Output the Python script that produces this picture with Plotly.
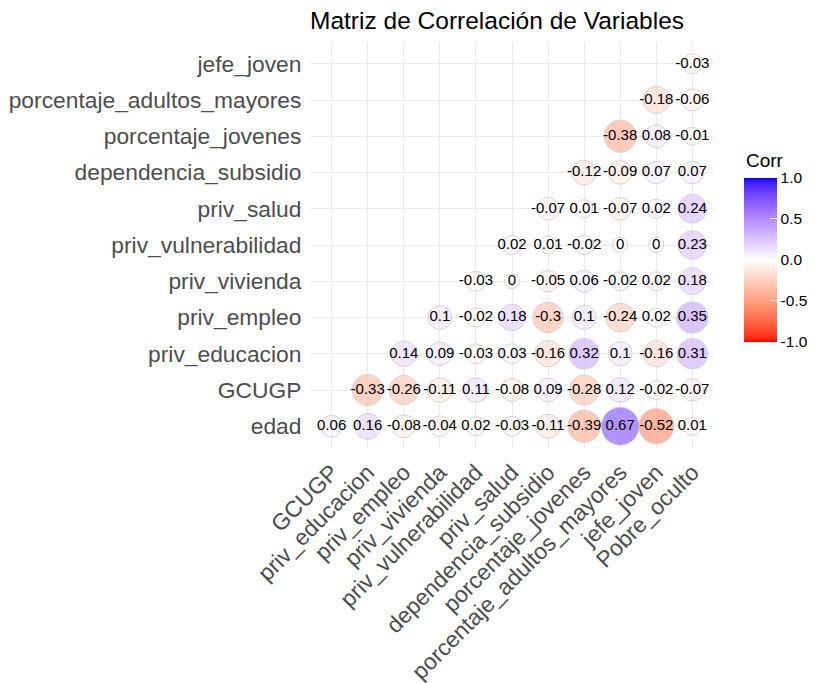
import math
import plotly.graph_objects as go

# ---- data ----
x_vars = ["GCUGP", "priv_educacion", "priv_empleo", "priv_vivienda", "priv_vulnerabilidad",
          "priv_salud", "dependencia_subsidio", "porcentaje_jovenes",
          "porcentaje_adultos_mayores", "jefe_joven", "Pobre_oculto"]
y_vars = ["edad", "GCUGP", "priv_educacion", "priv_empleo", "priv_vivienda",
          "priv_vulnerabilidad", "priv_salud", "dependencia_subsidio",
          "porcentaje_jovenes", "porcentaje_adultos_mayores", "jefe_joven"]

# each row lists the values of its rightmost columns (ending at Pobre_oculto)
r_edad = [0.06, 0.16, -0.08, -0.04, 0.02, -0.03, -0.11, -0.39, 0.67, -0.52, 0.01]
r_GCUGP = [-0.33, -0.26, -0.11, 0.11, -0.08, 0.09, -0.28, 0.12, -0.02, -0.07]
r_priv_educacion = [0.14, 0.09, -0.03, 0.03, -0.16, 0.32, 0.1, -0.16, 0.31]
r_priv_empleo = [0.1, -0.02, 0.18, -0.3, 0.1, -0.24, 0.02, 0.35]
r_priv_vivienda = [-0.03, 0, -0.05, 0.06, -0.02, 0.02, 0.18]
r_priv_vulnerabilidad = [0.02, 0.01, -0.02, 0, 0, 0.23]
r_priv_salud = [-0.07, 0.01, -0.07, 0.02, 0.24]
r_dependencia_subsidio = [-0.12, -0.09, 0.07, 0.07]
r_porcentaje_jovenes = [-0.38, 0.08, -0.01]
r_porcentaje_adultos_mayores = [-0.18, -0.06]
r_jefe_joven = [-0.03]

rows = [r_edad, r_GCUGP, r_priv_educacion, r_priv_empleo, r_priv_vivienda,
        r_priv_vulnerabilidad, r_priv_salud, r_dependencia_subsidio,
        r_porcentaje_jovenes, r_porcentaje_adultos_mayores, r_jefe_joven]

cbar_ticks = [-1.0, -0.5, 0.0, 0.5, 1.0]

# ---- colour mapping (Lab interpolation like ggplot2 gradient2) ----
def _lin(c):
    c = c / 255.0
    return c / 12.92 if c <= 0.04045 else ((c + 0.055) / 1.055) ** 2.4

def _delin(c):
    v = 12.92 * c if c <= 0.0031308 else 1.055 * (c ** (1 / 2.4)) - 0.055
    return max(0, min(255, round(v * 255)))

WN = (0.95047, 1.0, 1.08883)

def rgb2lab(rgb):
    r, g, b = [_lin(v) for v in rgb]
    X = 0.4124564 * r + 0.3575761 * g + 0.1804375 * b
    Y = 0.2126729 * r + 0.7151522 * g + 0.0721750 * b
    Z = 0.0193339 * r + 0.1191920 * g + 0.9503041 * b
    d = 6 / 29
    f = lambda t: t ** (1 / 3) if t > d ** 3 else t / (3 * d * d) + 4 / 29
    fx, fy, fz = f(X / WN[0]), f(Y / WN[1]), f(Z / WN[2])
    return (116 * fy - 16, 500 * (fx - fy), 200 * (fy - fz))

def lab2rgb(lab):
    L, a, b = lab
    fy = (L + 16) / 116
    fx = fy + a / 500
    fz = fy - b / 200
    d = 6 / 29
    finv = lambda t: t ** 3 if t > d else 3 * d * d * (t - 4 / 29)
    X, Y, Z = WN[0] * finv(fx), WN[1] * finv(fy), WN[2] * finv(fz)
    r = 3.2404542 * X - 1.5371385 * Y - 0.4985314 * Z
    g = -0.9692660 * X + 1.8760108 * Y + 0.0415560 * Z
    bb = 0.0556434 * X - 0.2040259 * Y + 1.0572252 * Z
    return tuple(_delin(max(0.0, v)) for v in (r, g, bb))

LOW, MID, HIGH = rgb2lab((255, 0, 0)), rgb2lab((255, 255, 255)), rgb2lab((0, 0, 255))

def corr_color(v):
    v = max(-1, min(1, v))
    if v < 0:
        t = -v
        a, b = MID, LOW
    else:
        t = v
        a, b = MID, HIGH
    lab = tuple(a[i] + (b[i] - a[i]) * t for i in range(3))
    r, g, bb = lab2rgb(lab)
    return f"rgb({r},{g},{bb})"

# ---- build points ----
px, py, pv = [], [], []
for i, row in enumerate(rows):
    start = len(x_vars) - len(row)
    for j, v in enumerate(row):
        px.append(x_vars[start + j])
        py.append(y_vars[i])
        pv.append(v)

maxabs = max(abs(v) for v in pv)
PX_PER_SIZE = 3.79
sizes = [PX_PER_SIZE * (4 + 6 * math.sqrt(abs(v) / maxabs)) for v in pv]
colors = [corr_color(v) for v in pv]
labels = [f"{v:g}" for v in pv]

n = 41
colorscale = [[k / (n - 1), corr_color(-1 + 2 * k / (n - 1))] for k in range(n)]

FONT = "Liberation Sans, Arial"
# page body has an 8px margin: figure drawn from (8, 8)
OFF = 8
W, H = 820 - OFF, 683 - OFF
PL, PR, PT, PB = 310, 714, 41.5, 448.5   # panel edges in window pixels
CB_LEFT = 744

fig = go.Figure()
fig.add_trace(go.Scatter(
    x=px, y=py, mode="markers",
    marker=dict(size=sizes, color=colors, line=dict(color="#C4C4C4", width=1)),
    hoverinfo="skip", showlegend=False))
fig.add_trace(go.Scatter(
    x=px, y=py, mode="text", text=labels, textposition="middle center",
    textfont=dict(family=FONT, size=15, color="black"),
    hoverinfo="skip", showlegend=False))
# colorbar
fig.add_trace(go.Scatter(
    x=[x_vars[0]], y=[y_vars[0]], mode="markers",
    marker=dict(size=0.1, color=[0], cmin=-1, cmax=1, colorscale=colorscale,
                opacity=0, showscale=True,
                colorbar=dict(
                    thickness=33, thicknessmode="pixels",
                    len=164, lenmode="pixels",
                    x=(CB_LEFT - PL) / (PR - PL), xanchor="left",
                    y=(PB - 260) / (PB - PT), yanchor="middle",
                    xpad=0, ypad=0, outlinewidth=0,
                    tickvals=cbar_ticks,
                    ticktext=[f"{t:.1f}" for t in cbar_ticks],
                    ticks="inside", ticklen=7, tickcolor="white", tickwidth=1,
                    tickfont=dict(family=FONT, size=15.5, color="black"))),
    hoverinfo="skip", showlegend=False))

axis_font = dict(family=FONT, size=22.8, color="#4D4D4D")
fig.update_layout(
    width=W, height=H,
    margin=dict(l=PL - OFF, r=W + OFF - PR, t=PT - OFF, b=H + OFF - PB, autoexpand=False),
    paper_bgcolor="white", plot_bgcolor="white",
    title=dict(text="Matriz de Correlación de Variables", x=0, xref="paper",
               y=1 - (20 - OFF) / H, yref="container", yanchor="middle", xanchor="left",
               font=dict(family=FONT, size=24.5, color="black")),
    annotations=[dict(text="Corr", x=(CB_LEFT - PL) / (PR - PL), y=(PB - 160) / (PB - PT),
                      xref="paper", yref="paper", xanchor="left", yanchor="middle",
                      showarrow=False, font=dict(family=FONT, size=19, color="black"))],
    xaxis=dict(type="category", categoryorder="array", categoryarray=x_vars,
               range=[-0.6, len(x_vars) - 0.4], tickangle=-45, tickfont=axis_font,
               showgrid=True, gridcolor="#EBEBEB", gridwidth=1.1, zeroline=False,
               showline=False, ticks="outside", ticklen=1, tickcolor="rgba(0,0,0,0)",
               fixedrange=True),
    yaxis=dict(type="category", categoryorder="array", categoryarray=y_vars,
               range=[-0.6, len(y_vars) - 0.4], tickfont=axis_font,
               showgrid=True, gridcolor="#EBEBEB", gridwidth=1.1, zeroline=False,
               showline=False, ticks="outside", ticklen=3, tickcolor="rgba(0,0,0,0)",
               fixedrange=True),
)

fig.write_html("out.html")
